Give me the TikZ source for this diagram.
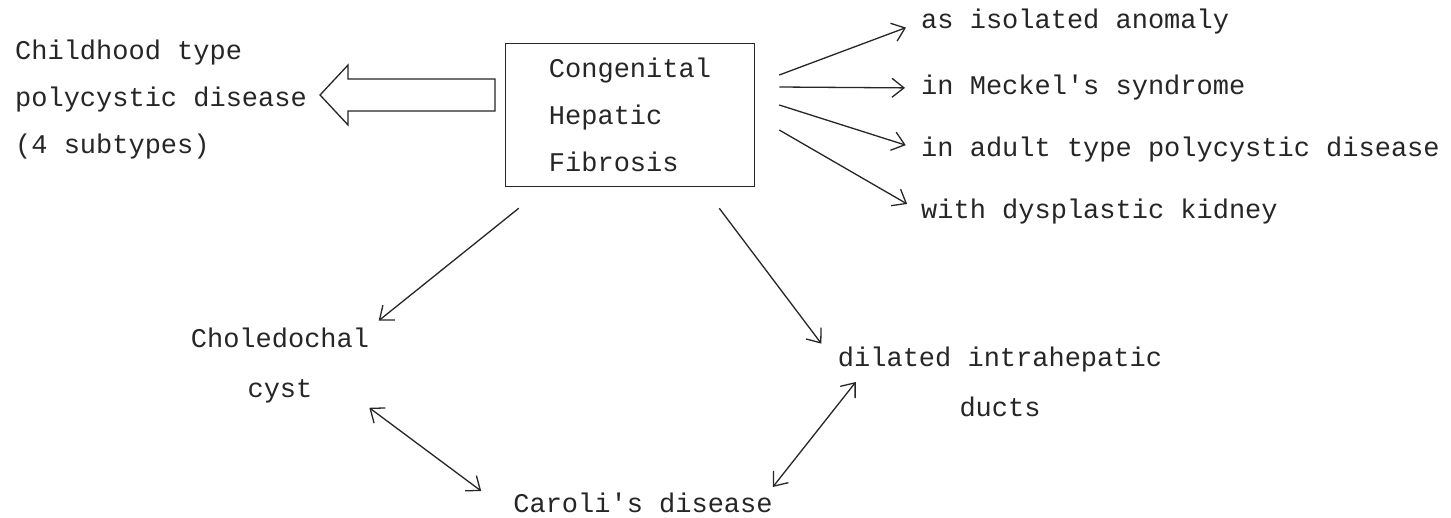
\documentclass[tikz,border=0pt]{standalone}
\usepackage{fontspec}
\setmonofont{Liberation Mono}
\usepackage{tikz}
\usetikzlibrary{positioning,arrows.meta,calc}

\begin{document}
\begin{tikzpicture}[x=1pt,y=-1pt,>={Straight Barb[length=12pt,width=19pt]},
  txt/.style={font=\ttfamily\fontsize{27}{47}\selectfont,inner sep=0pt,text=black!85},
  ar/.style={->,line width=1.3pt,draw=black!85},
  dar/.style={<->,line width=1.3pt,draw=black!85}]
\useasboundingbox (0,0) rectangle (1451,517);
\fill[white] (0,0) rectangle (1451,517);
  \node[txt,align=left,anchor=west] (child) at (15,100) {Childhood type\\polycystic disease\\(4 subtypes)};
  \node[txt,draw=black!85,line width=1.5pt,align=left,minimum width=249pt,minimum height=143pt] (chf) at (630,115) {Congenital\\Hepatic\\Fibrosis};
  % what it goes with
  \node[txt,anchor=west] (iso) at (921,22) {as isolated anomaly};
  \node[txt,anchor=west] (meckel) at (921,88) {in Meckel's syndrome};
  \node[txt,anchor=west] (adult) at (921,150) {in adult type polycystic disease};
  \node[txt,anchor=west] (dysp) at (921,212) {with dysplastic kidney};
  % lower part
  \node[txt,align=center,font=\ttfamily\fontsize{27}{50}\selectfont] (chol) at (280,366) {Choledochal\\cyst};
  \node[txt,align=center,font=\ttfamily\fontsize{27}{50}\selectfont] (dil) at (1000,382) {dilated intrahepatic\\ducts};
  \node[txt] (caroli) at (643,503) {Caroli's disease};
  % hollow arrow
  \draw[line width=1.3pt,draw=black!85] (child.east) ++(13,-5) coordinate (tip) -- ++(28,-30) -- ++(0,14) -- ++(147,0) -- ++(0,32) -- ++(-147,0) -- ++(0,14) -- cycle;
  \foreach \dy/\n in {-40/iso,-28/meckel,-10/adult,15/dysp}
    \draw[ar,shorten >=16pt] ($(chf.east)+(24,\dy)$) -- (\n.west);
  \draw[ar,shorten >=12pt] ($(chf.south west)+(14,21)$) -- (chol.north east);
  \draw[ar,shorten >=4pt] ($(chf.south east)+(-36,21)$) -- ([xshift=-14pt]dil.north west);
  \draw[dar] ([yshift=-4pt]chol.south east) -- ([xshift=-32pt,yshift=12pt]caroli.west);
  \draw[dar] ([xshift=18pt]dil.west) -- ([yshift=16pt]caroli.east);
\end{tikzpicture}
\end{document}
